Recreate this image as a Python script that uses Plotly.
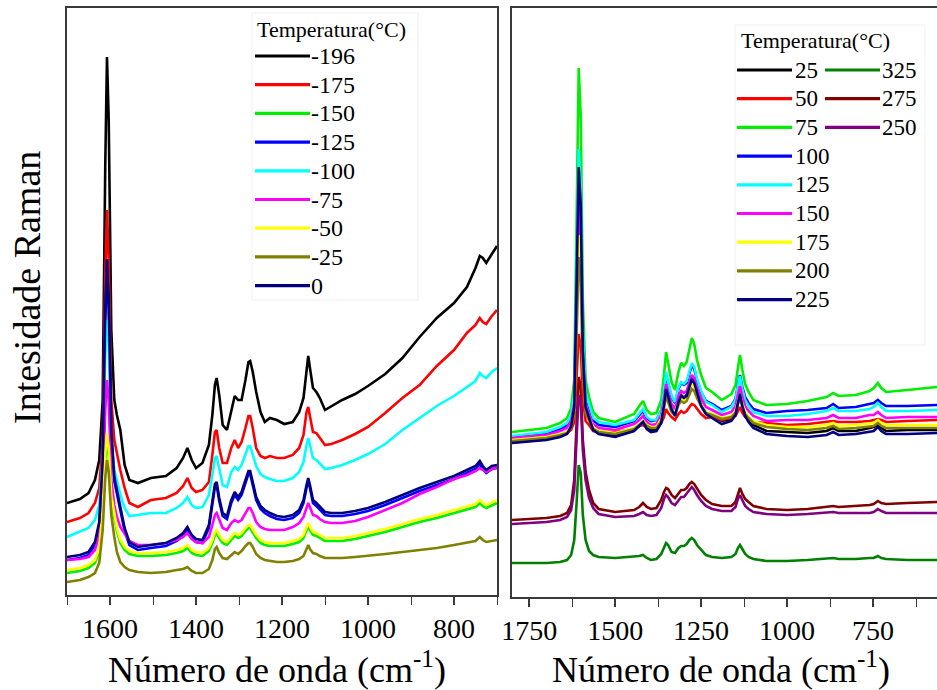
import plotly.graph_objects as go

# ---------------- data: left panel (low temperatures) ----------------
wn_left = [1700, 1670, 1650, 1635, 1625, 1617, 1611, 1607, 1603, 1597,
           1590, 1584, 1576, 1566, 1555, 1535, 1505, 1470, 1445, 1430,
           1420, 1410, 1400, 1385, 1370, 1362, 1356, 1352, 1346, 1338,
           1328, 1318, 1310, 1302, 1294, 1285, 1278, 1274, 1268, 1260,
           1250, 1240, 1228, 1212, 1195, 1175, 1160, 1150, 1143, 1139,
           1135, 1128, 1120, 1112, 1100, 1085, 1060, 1030, 1000, 960,
           920, 880, 840, 800, 770, 750, 740, 733, 725, 712, 700]

t_m196 = [92, 96, 102, 115, 135, 195, 430, 538, 475, 265, 195, 180, 165, 130, 115, 112, 117, 119, 127, 137,
          147, 135, 127, 132, 150, 180, 210, 217, 200, 170, 165, 183, 199, 195, 195, 215, 233, 234, 223, 203,
          183, 173, 177, 175, 171, 173, 183, 197, 223, 239, 227, 207, 203, 197, 185, 189, 195, 201, 209, 221,
          237, 258, 277, 292, 308, 327, 339, 337, 332, 341, 349]
t_m175 = [73, 77, 82, 92, 107, 155, 320, 385, 335, 195, 155, 142, 125, 107, 92, 88, 95, 97, 102, 109,
          117, 107, 103, 105, 113, 140, 163, 165, 147, 132, 132, 147, 155, 147, 153, 167, 179, 179, 167, 147,
          139, 137, 139, 137, 137, 140, 147, 160, 183, 188, 180, 163, 162, 157, 150, 151, 155, 161, 168, 182,
          197, 210, 229, 245, 262, 270, 277, 273, 271, 279, 285]
t_m150 = [22, 24, 27, 32, 44, 80, 134, 155, 140, 95, 78, 64, 52, 45, 41, 39, 39, 40, 42, 44,
          47, 42, 40, 39, 44, 52, 60, 62, 57, 52, 50, 55, 59, 57, 59, 64, 67, 67, 63, 57,
          52, 50, 49, 49, 49, 51, 53, 57, 65, 69, 65, 60, 59, 57, 54, 54, 54, 56, 59, 63,
          68, 73, 77, 82, 85, 88, 92, 89, 87, 90, 92]
t_m125 = [35, 37, 40, 50, 70, 130, 275, 328, 285, 160, 114, 101, 84, 64, 50, 45, 47, 49, 54, 59,
          65, 57, 53, 52, 67, 92, 108, 110, 94, 79, 76, 92, 100, 95, 100, 112, 121, 121, 110, 95,
          86, 82, 79, 76, 75, 77, 82, 92, 107, 114, 107, 92, 89, 85, 80, 79, 79, 81, 84, 90,
          97, 104, 110, 116, 122, 126, 131, 126, 122, 126, 127]
t_m100 = [58, 63, 67, 75, 90, 135, 240, 275, 250, 155, 125, 115, 100, 87, 79, 80, 82, 82, 87, 92,
          98, 90, 87, 88, 100, 120, 137, 139, 125, 110, 108, 123, 128, 125, 130, 140, 149, 149, 140, 129,
          121, 118, 116, 114, 114, 117, 123, 133, 150, 157, 150, 137, 135, 131, 126, 127, 130, 135, 141, 151,
          165, 177, 189, 199, 208, 214, 222, 219, 217, 223, 227]
t_m75 = [35, 36, 38, 45, 60, 105, 185, 215, 195, 115, 90, 78, 68, 61, 54, 50, 50, 52, 55, 58,
         62, 56, 53, 52, 58, 70, 80, 82, 75, 67, 65, 72, 75, 73, 75, 82, 87, 87, 82, 73,
         68, 66, 65, 65, 65, 68, 72, 78, 88, 92, 88, 80, 79, 76, 73, 72, 72, 74, 78, 85,
         92, 101, 108, 116, 120, 124, 127, 125, 123, 126, 128]
t_m50 = [25, 27, 30, 35, 47, 85, 142, 162, 147, 100, 82, 67, 55, 48, 44, 42, 42, 43, 45, 47,
         50, 45, 43, 42, 47, 55, 63, 65, 60, 55, 53, 58, 62, 60, 62, 67, 70, 70, 66, 60,
         55, 53, 52, 52, 52, 54, 56, 60, 68, 72, 68, 63, 62, 60, 57, 57, 57, 59, 62, 66,
         71, 76, 80, 85, 88, 91, 95, 92, 90, 93, 95]
t_m25 = [13, 15, 18, 22, 32, 65, 117, 135, 123, 80, 58, 43, 33, 28, 25, 23, 22, 23, 25, 26,
         28, 24, 22, 22, 26, 35, 46, 48, 42, 37, 36, 40, 43, 41, 44, 49, 52, 52, 48, 41,
         37, 35, 34, 33, 33, 34, 36, 39, 46, 50, 46, 42, 41, 39, 37, 37, 37, 38, 39, 41,
         43, 45, 47, 50, 52, 54, 58, 55, 53, 54, 55]
t_0 = [38, 40, 43, 53, 73, 135, 285, 336, 295, 165, 118, 105, 87, 67, 53, 48, 50, 52, 57, 62,
       68, 60, 56, 55, 70, 95, 111, 113, 97, 82, 79, 95, 103, 98, 103, 115, 124, 124, 113, 98,
       89, 85, 82, 79, 78, 80, 85, 95, 110, 117, 110, 95, 92, 88, 83, 82, 82, 84, 87, 93,
       100, 107, 113, 119, 125, 129, 134, 129, 125, 129, 130]

left_labels = ["-196", "-175", "-150", "-125", "-100", "-75", "-50", "-25", "0"]
left_values = [t_m196, t_m175, t_m150, t_m125, t_m100, t_m75, t_m50, t_m25, t_0]
left_colors = ["#000000", "#ff0000", "#00ee00", "#0000ff", "#00ffff", "#ff00ff", "#ffff00", "#808000", "#000080"]

# ---------------- data: right panel (high temperatures) ----------------
wn_right = [1800, 1700, 1660, 1640, 1628, 1619, 1612, 1606, 1600, 1594,
            1586, 1576, 1564, 1548, 1500, 1445, 1430, 1419, 1408, 1396,
            1380, 1366, 1358, 1352, 1346, 1336, 1326, 1316, 1308, 1300,
            1292, 1284, 1277, 1270, 1262, 1250, 1236, 1218, 1190, 1162,
            1150, 1143, 1137, 1130, 1122, 1112, 1098, 1060, 1000, 940,
            885, 866, 850, 800, 760, 748, 736, 726, 712, 650, 564]

t_25 = [155, 158, 161, 164, 171, 190, 300, 402, 370, 244, 190, 179, 168, 164, 161, 167, 171, 175, 169, 167,
        167, 176, 193, 209, 201, 188, 183, 196, 202, 199, 202, 211, 218, 214, 205, 194, 184, 181, 176, 178,
        184, 196, 204, 193, 184, 177, 172, 166, 165, 164, 166, 169, 166, 166, 169, 170, 172, 169, 166, 167, 167]
t_50 = [157, 159, 162, 164, 167, 175, 220, 263, 250, 198, 176, 172, 166, 165, 165, 168, 171, 172, 170, 170,
        170, 174, 180, 188, 184, 180, 177, 183, 186, 184, 186, 190, 193, 192, 188, 183, 179, 180, 177, 179,
        181, 186, 190, 184, 180, 178, 175, 174, 172, 173, 175, 176, 175, 175, 176, 177, 178, 177, 175, 176, 177]
t_75 = [165, 169, 174, 179, 189, 217, 380, 529, 480, 297, 217, 200, 185, 179, 175, 183, 191, 196, 187, 183,
        184, 197, 222, 245, 234, 215, 207, 225, 234, 231, 235, 249, 259, 253, 237, 222, 209, 205, 197, 203,
        212, 229, 242, 227, 213, 205, 197, 192, 193, 196, 200, 204, 201, 202, 206, 209, 214, 209, 205, 207, 210]
t_100 = [160, 164, 168, 172, 179, 200, 320, 432, 395, 260, 200, 189, 177, 172, 170, 176, 182, 186, 179, 176,
         177, 187, 205, 222, 214, 200, 194, 208, 214, 212, 214, 225, 232, 228, 217, 205, 196, 193, 187, 191,
         198, 212, 222, 210, 200, 194, 188, 184, 186, 187, 189, 193, 189, 190, 193, 194, 197, 194, 191, 191, 192]
t_125 = [161, 165, 170, 174, 182, 204, 330, 448, 410, 267, 204, 192, 179, 175, 172, 177, 184, 188, 180, 177,
         177, 187, 207, 225, 215, 201, 195, 209, 215, 213, 216, 226, 234, 230, 218, 206, 195, 192, 185, 190,
         197, 211, 221, 208, 197, 191, 185, 181, 181, 183, 186, 189, 186, 186, 188, 190, 194, 190, 186, 186, 187]
t_150 = [159, 162, 166, 169, 176, 194, 295, 398, 365, 246, 194, 183, 173, 169, 167, 173, 177, 181, 175, 172,
         173, 182, 198, 213, 205, 193, 188, 201, 206, 204, 206, 216, 222, 219, 209, 199, 190, 187, 182, 185,
         191, 202, 211, 200, 191, 186, 181, 176, 177, 177, 179, 182, 179, 179, 182, 182, 185, 182, 179, 180, 180]
t_175 = [157, 160, 163, 165, 171, 187, 275, 362, 335, 232, 187, 179, 170, 166, 164, 169, 173, 176, 172, 170,
         170, 178, 192, 205, 199, 188, 184, 195, 199, 197, 199, 207, 213, 210, 202, 193, 185, 183, 179, 181,
         186, 195, 203, 193, 186, 180, 176, 172, 170, 170, 172, 174, 171, 172, 173, 174, 177, 174, 172, 172, 172]
t_200 = [156, 159, 162, 164, 169, 183, 262, 340, 315, 224, 184, 176, 168, 165, 163, 168, 172, 175, 171, 169,
         169, 176, 189, 201, 195, 185, 182, 192, 196, 194, 196, 203, 208, 206, 199, 191, 184, 182, 178, 180,
         184, 193, 199, 190, 183, 179, 174, 170, 168, 167, 169, 171, 168, 169, 170, 171, 174, 171, 169, 169, 169]
t_225 = [154, 157, 160, 163, 171, 190, 315, 430, 392, 246, 190, 179, 167, 163, 160, 166, 171, 175, 168, 165,
         166, 174, 192, 208, 201, 188, 181, 195, 201, 199, 201, 211, 218, 214, 204, 191, 183, 179, 173, 176,
         182, 194, 203, 191, 181, 175, 169, 163, 161, 160, 162, 165, 162, 163, 165, 166, 170, 166, 163, 163, 164]
t_325 = [34, 34, 35, 37, 42, 57, 95, 132, 124, 82, 57, 46, 42, 40, 39, 40, 41, 42, 39, 37,
         38, 43, 50, 54, 52, 45, 44, 49, 51, 51, 53, 57, 59, 57, 52, 47, 42, 40, 39, 40,
         43, 49, 52, 48, 43, 40, 38, 36, 36, 37, 38, 39, 38, 38, 39, 39, 41, 39, 38, 37, 37]
t_275 = [77, 79, 81, 84, 92, 117, 175, 220, 210, 157, 125, 107, 94, 88, 85, 87, 90, 94, 90, 88,
         89, 97, 105, 109, 108, 102, 99, 103, 107, 107, 109, 113, 115, 113, 108, 102, 97, 93, 91, 91,
         95, 104, 109, 103, 98, 95, 91, 88, 87, 88, 90, 91, 90, 91, 92, 93, 96, 94, 93, 94, 95]
t_250 = [73, 75, 77, 80, 87, 107, 160, 202, 195, 147, 117, 99, 89, 83, 80, 81, 83, 85, 82, 81,
         82, 89, 98, 102, 100, 94, 92, 97, 100, 100, 103, 107, 110, 107, 102, 96, 91, 88, 86, 86,
         90, 98, 102, 96, 91, 88, 85, 83, 82, 83, 84, 85, 84, 84, 84, 85, 88, 86, 84, 84, 84]

right_labels = ["25", "50", "75", "100", "125", "150", "175", "200", "225", "325", "275", "250"]
right_values = [t_25, t_50, t_75, t_100, t_125, t_150, t_175, t_200, t_225, t_325, t_275, t_250]
right_colors = ["#000000", "#ff0000", "#00ee00", "#0000ff", "#00ffff", "#ff00ff", "#ffff00", "#808000",
                "#000080", "#008000", "#800000", "#800080"]

left_ticks = [1600, 1400, 1200, 1000, 800]
right_ticks = [1750, 1500, 1250, 1000, 750]

# ---------------- figure ----------------
W, H = 937, 690
FONT = "Liberation Serif, Times New Roman, serif"


def px(x):
    return x / W


def py(y):
    return 1 - y / H


fig = go.Figure()

for lab, vals, col in zip(left_labels, left_values, left_colors):
    fig.add_trace(go.Scatter(x=wn_left, y=vals, mode="lines", name=lab,
                             line=dict(color=col, width=2.6), xaxis="x", yaxis="y",
                             showlegend=False))

right_draw_order = [9, 10, 11, 0, 1, 2, 3, 4, 5, 6, 7, 8]
for i in right_draw_order:
    fig.add_trace(go.Scatter(x=wn_right, y=right_values[i], mode="lines", name=right_labels[i],
                             line=dict(color=right_colors[i], width=2.6), xaxis="x2", yaxis="y2",
                             showlegend=False))

axis_line = dict(showline=True, linecolor="#3a3a3a", linewidth=1.6, showgrid=False, zeroline=False,
                 automargin=False)
tickfont = dict(family=FONT, size=28, color="#000000")

fig.update_layout(
    template="none",
    width=W, height=H,
    margin=dict(l=0, r=0, t=0, b=0, pad=0, autoexpand=False),
    paper_bgcolor="white", plot_bgcolor="white",
    font=dict(family=FONT, color="#000000"),
    xaxis=dict(domain=[px(67), px(497)], range=[1700, 700], anchor="y",
               tickvals=left_ticks, ticks="outside", ticklen=8, tickwidth=1.5, tickcolor="#3a3a3a",
               minor=dict(dtick=100, tick0=0, ticks="outside", ticklen=8, tickwidth=1.3, tickcolor="#3a3a3a"),
               mirror=True, tickfont=tickfont, **axis_line),
    yaxis=dict(domain=[py(595), py(8)], range=[0, 587], anchor="x",
               showticklabels=False, ticks="", mirror=True, **axis_line),
    xaxis2=dict(domain=[px(512), 1.0], range=[1800, 564], anchor="y2",
                tickvals=right_ticks, ticks="outside", ticklen=8, tickwidth=1.5, tickcolor="#3a3a3a",
                minor=dict(dtick=125, tick0=0, ticks="outside", ticklen=8, tickwidth=1.3, tickcolor="#3a3a3a"),
                mirror=True, tickfont=tickfont, **axis_line),
    yaxis2=dict(domain=[py(597), py(8)], range=[0, 589], anchor="x2",
                showticklabels=False, ticks="", mirror=False, **axis_line),
)

annotations = []
shapes = []

# axis titles
xtitle = "Número de onda (cm<sup>-1</sup>)"
annotations.append(dict(text=xtitle, x=px(277), y=py(667), xref="paper", yref="paper",
                        xanchor="center", yanchor="middle", showarrow=False,
                        font=dict(family=FONT, size=36, color="#000000")))
annotations.append(dict(text=xtitle, x=px(721), y=py(667), xref="paper", yref="paper",
                        xanchor="center", yanchor="middle", showarrow=False,
                        font=dict(family=FONT, size=36, color="#000000")))
annotations.append(dict(text="Intesidade Raman", x=px(27), y=py(288), xref="paper", yref="paper",
                        xanchor="center", yanchor="middle", showarrow=False, textangle=-90,
                        font=dict(family=FONT, size=38, color="#000000")))

# left legend
shapes.append(dict(type="rect", xref="paper", yref="paper", x0=px(252), x1=px(418), y0=py(300), y1=py(13),
                   line=dict(color="#f0f0f0", width=1), fillcolor="rgba(0,0,0,0)"))
annotations.append(dict(text="Temperatura(°C)", x=px(255), y=py(30), xref="paper", yref="paper",
                        xanchor="left", yanchor="middle", showarrow=False,
                        font=dict(family=FONT, size=22, color="#000000")))
for k, (lab, col) in enumerate(zip(left_labels, left_colors)):
    yy = 56 + k * 28.7
    shapes.append(dict(type="line", xref="paper", yref="paper", x0=px(255), x1=px(310),
                       y0=py(yy), y1=py(yy), line=dict(color=col, width=3.2)))
    annotations.append(dict(text=lab, x=px(309), y=py(yy), xref="paper", yref="paper",
                            xanchor="left", yanchor="middle", showarrow=False,
                            font=dict(family=FONT, size=24, color="#000000")))

# right legend (two columns)
shapes.append(dict(type="rect", xref="paper", yref="paper", x0=px(735), x1=px(925), y0=py(345), y1=py(25),
                   line=dict(color="#f0f0f0", width=1), fillcolor="rgba(0,0,0,0)"))
annotations.append(dict(text="Temperatura(°C)", x=px(739), y=py(41), xref="paper", yref="paper",
                        xanchor="left", yanchor="middle", showarrow=False,
                        font=dict(family=FONT, size=22, color="#000000")))
for k in range(9):
    yy = 70 + k * 28.7
    shapes.append(dict(type="line", xref="paper", yref="paper", x0=px(737), x1=px(792),
                       y0=py(yy), y1=py(yy), line=dict(color=right_colors[k], width=3.2)))
    annotations.append(dict(text=right_labels[k], x=px(793), y=py(yy), xref="paper", yref="paper",
                            xanchor="left", yanchor="middle", showarrow=False,
                            font=dict(family=FONT, size=23, color="#000000")))
for k in range(3):
    yy = 70 + k * 28.7
    shapes.append(dict(type="line", xref="paper", yref="paper", x0=px(825), x1=px(880),
                       y0=py(yy), y1=py(yy), line=dict(color=right_colors[9 + k], width=3.2)))
    annotations.append(dict(text=right_labels[9 + k], x=px(880), y=py(yy), xref="paper", yref="paper",
                            xanchor="left", yanchor="middle", showarrow=False,
                            font=dict(family=FONT, size=23, color="#000000")))

fig.update_layout(annotations=annotations, shapes=shapes)
fig.write_html("out.html", config={"displayModeBar": False},
               post_script="document.body.style.margin='0px';")
